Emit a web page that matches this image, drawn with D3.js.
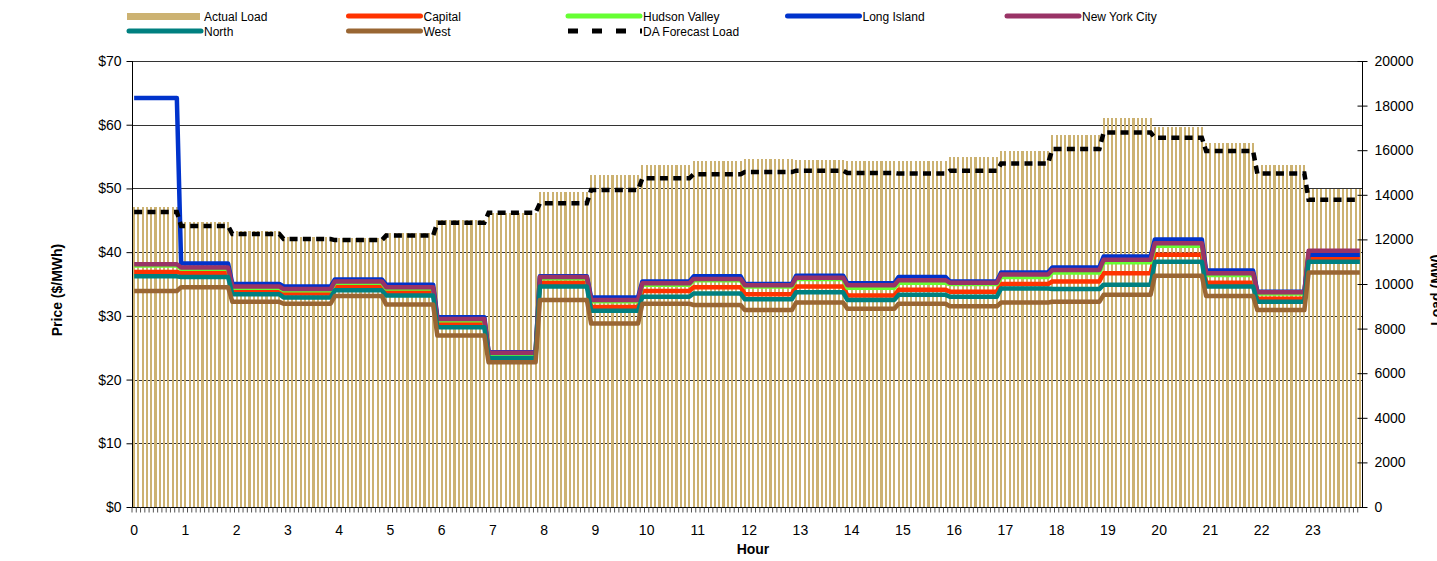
<!DOCTYPE html>
<html>
<head>
<meta charset="utf-8">
<script src="https://cdn.jsdelivr.net/npm/d3@7"></script>
<style>
  body, html { margin:0; padding:0; background:#fff; }
  svg { font-family: "Liberation Sans", Arial, sans-serif; display:block; }
  .tick text { font-size:14px; fill:#000; }
</style>
</head>
<body>
<svg id="chart" width="1437" height="561"></svg>
<script>
// hourly values (each hour is drawn as twelve 5-minute intervals)
var hourLabels = d3.range(24).map(String);
var actualLoad = [13450, 12780, 12380, 12110, 12060, 12290, 12870, 13180, 14120, 14890, 15340, 15520,
                  15600, 15560, 15520, 15520, 15700, 15960, 16680, 17440, 17040, 16320, 15340, 14260];
var daForecast = [13230, 12600, 12240, 12020, 11970, 12170, 12750, 13200, 13620, 14220, 14740, 14920,
                  15020, 15080, 14980, 14950, 15080, 15400, 16050, 16790, 16560, 15960, 14950, 13780];
var capital      = [36.9, 36.7, 34.1, 33.5, 34.6, 33.8, 28.7, 23.8, 35.2, 31.4, 33.9, 34.5, 33.4, 34.6, 33.2, 34.1, 33.8, 35.0, 35.4, 36.7, 39.6, 35.2, 32.7, 39.0];
var hudsonValley = [37.9, 37.4, 34.4, 34.0, 35.2, 34.3, 29.3, 24.0, 35.9, 32.3, 34.9, 35.6, 34.6, 35.8, 34.4, 35.2, 35.0, 36.1, 36.8, 38.4, 41.0, 36.4, 33.5, 39.8];
var longIsland   = [64.2, 38.2, 35.0, 34.6, 35.7, 34.9, 29.8, 24.3, 36.2, 32.9, 35.4, 36.2, 35.0, 36.3, 35.1, 36.1, 35.4, 36.8, 37.6, 39.3, 42.0, 37.1, 33.8, 39.6];
var newYorkCity  = [38.1, 37.6, 34.6, 34.2, 35.4, 34.5, 29.5, 24.2, 36.1, 32.5, 35.1, 35.8, 34.8, 36.0, 34.8, 35.6, 35.2, 36.5, 37.2, 38.8, 41.4, 36.7, 33.7, 40.2];
var north        = [36.2, 36.1, 33.4, 32.9, 34.0, 33.2, 28.2, 23.4, 34.6, 30.8, 33.0, 33.5, 32.6, 33.7, 32.5, 33.3, 33.0, 34.3, 34.2, 34.9, 38.5, 34.6, 32.2, 38.5];
var west         = [33.9, 34.5, 32.2, 31.9, 33.1, 31.8, 26.9, 22.7, 32.5, 28.8, 31.9, 31.7, 30.9, 32.1, 31.1, 31.9, 31.5, 32.1, 32.2, 33.3, 36.3, 33.1, 30.9, 36.8];
var priceTicks = [0, 10, 20, 30, 40, 50, 60, 70];
var loadTicks = d3.range(0, 20001, 2000);

var series = [
  {name:"Capital", values:capital, color:"#ff3300"},
  {name:"Hudson Valley", values:hudsonValley, color:"#66ff33"},
  {name:"Long Island", values:longIsland, color:"#0033cc"},
  {name:"New York City", values:newYorkCity, color:"#993366"},
  {name:"North", values:north, color:"#008080"},
  {name:"West", values:west, color:"#996633"}
];

var plotL = 132, plotR = 1362, plotT = 61, plotB = 507;
var svg = d3.select("#chart");

// 288 five minute intervals, the hour changes one interval before the label
var slots = d3.range(288);
function hourOf(i){ return Math.min(23, Math.floor((i + 1) / 12)); }

var x = d3.scaleBand().domain(slots).range([plotL, plotR]).paddingInner(0.5).paddingOuter(0.25);
var xc = function(i){ return x(i) + x.bandwidth() / 2; };
var yPrice = d3.scaleLinear().domain([0, 70]).range([plotB, plotT]);
var yLoad = d3.scaleLinear().domain([0, 20000]).range([plotB, plotT]);

// gridlines
svg.append("g").selectAll("line").data(priceTicks.slice(1)).enter().append("line")
   .attr("x1", plotL).attr("x2", plotR)
   .attr("y1", function(d){ return Math.round(yPrice(d)) + 0.5; })
   .attr("y2", function(d){ return Math.round(yPrice(d)) + 0.5; })
   .style("stroke", "#333").style("stroke-width", 1);

// actual load bars
svg.append("g").selectAll("rect").data(slots).enter().append("rect")
   .attr("x", function(d){ return x(d); })
   .attr("width", x.bandwidth())
   .attr("y", function(d){ return yLoad(actualLoad[hourOf(d)]); })
   .attr("height", function(d){ return plotB - yLoad(actualLoad[hourOf(d)]); })
   .attr("shape-rendering", "crispEdges")
   .style("fill", "#ccb272");

// price lines
var priceLine = d3.line().x(function(d){ return xc(d.i); }).y(function(d){ return yPrice(d.v); });
series.forEach(function(s){
  var pts = slots.map(function(i){ return {i:i, v:s.values[hourOf(i)]}; });
  svg.append("path").datum(pts).attr("d", priceLine)
     .style("fill", "none").style("stroke", s.color).style("stroke-width", 4.5)
     .style("stroke-linejoin", "round");
});

// DA forecast load
var loadLine = d3.line().x(function(d){ return xc(d.i); }).y(function(d){ return yLoad(d.v); });
svg.append("path")
   .datum(slots.map(function(i){ return {i:i, v:daForecast[hourOf(i)]}; }))
   .attr("d", loadLine)
   .style("fill", "none").style("stroke", "#000").style("stroke-width", 4.5)
   .style("stroke-dasharray", "8,5.3");

// axes
var yAxisL = d3.axisLeft(yPrice).tickValues(priceTicks).tickSize(6).tickFormat(function(d){ return "$" + d; });
var gl = svg.append("g").attr("transform", "translate(" + (plotL + 0.5) + ",0)").call(yAxisL);
gl.select(".domain").attr("d", "M0," + plotT + "V" + plotB);
gl.selectAll(".tick text").attr("x", -11);

var yAxisR = d3.axisRight(yLoad).tickValues(loadTicks).tickSize(5).tickFormat(d3.format("d"));
var gr = svg.append("g").attr("transform", "translate(" + (plotR + 0.5) + ",0)").call(yAxisR);
gr.select(".domain").attr("d", "M0," + plotT + "V" + plotB);
gr.selectAll(".tick line").attr("x1", -5);
gr.selectAll(".tick text").attr("x", 12);

var xAxis = d3.axisBottom(x).tickValues(slots).tickSize(5)
   .tickFormat(function(d){ return d % 12 === 0 ? hourLabels[d / 12] : ""; });
var gx = svg.append("g").attr("transform", "translate(0," + (plotB + 0.5) + ")").call(xAxis);
gx.select(".domain").attr("d", "M" + plotL + ",0H" + plotR);
gx.selectAll(".tick line").attr("transform", "translate(" + (-x.step() / 2) + ",0)").style("stroke", "#555");
gx.selectAll(".tick text").attr("y", 18);
svg.selectAll(".domain").style("stroke", "#000");

// axis titles
svg.append("text").text("Price ($/MWh)")
   .attr("transform", "translate(62,290) rotate(-90)")
   .attr("text-anchor", "middle").style("font-weight", "bold").style("font-size", "14px");
svg.append("text").text("Load (MW)")
   .attr("transform", "translate(1441,290) rotate(-90)")
   .attr("text-anchor", "middle").style("font-weight", "bold").style("font-size", "14px");
svg.append("text").text("Hour")
   .attr("x", 753).attr("y", 554)
   .attr("text-anchor", "middle").style("font-weight", "bold").style("font-size", "14px");

// legend
var legendItems = [
  {name:"Actual Load", kind:"bar", color:"#ccb272", col:0, row:0},
  {name:"Capital", kind:"line", color:"#ff3300", col:1, row:0},
  {name:"Hudson Valley", kind:"line", color:"#66ff33", col:2, row:0},
  {name:"Long Island", kind:"line", color:"#0033cc", col:3, row:0},
  {name:"New York City", kind:"line", color:"#993366", col:4, row:0},
  {name:"North", kind:"line", color:"#008080", col:0, row:1},
  {name:"West", kind:"line", color:"#996633", col:1, row:1},
  {name:"DA Forecast Load", kind:"dash", color:"#000", col:2, row:1}
];
var legend = svg.append("g");
legendItems.forEach(function(d){
  var lx = 127 + d.col * 219.5, ly = 17 + d.row * 15;
  if (d.kind === "bar") {
    legend.append("rect").attr("x", lx).attr("y", ly - 4).attr("width", 73).attr("height", 7).style("fill", d.color);
  } else if (d.kind === "dash") {
    legend.append("line").attr("x1", lx + 2).attr("x2", lx + 76).attr("y1", ly - 1).attr("y2", ly - 1)
      .style("stroke", d.color).style("stroke-width", 5).style("stroke-dasharray", "10,14");
  } else {
    legend.append("line").attr("x1", lx + 2).attr("x2", lx + 74).attr("y1", ly - 1).attr("y2", ly - 1)
      .style("stroke", d.color).style("stroke-width", 5).style("stroke-linecap", "round");
  }
  legend.append("text").text(d.name).attr("x", lx + 77).attr("y", ly + 4)
    .style("font-size", "12px").style("fill", "#000");
});
</script>
</body>
</html>
